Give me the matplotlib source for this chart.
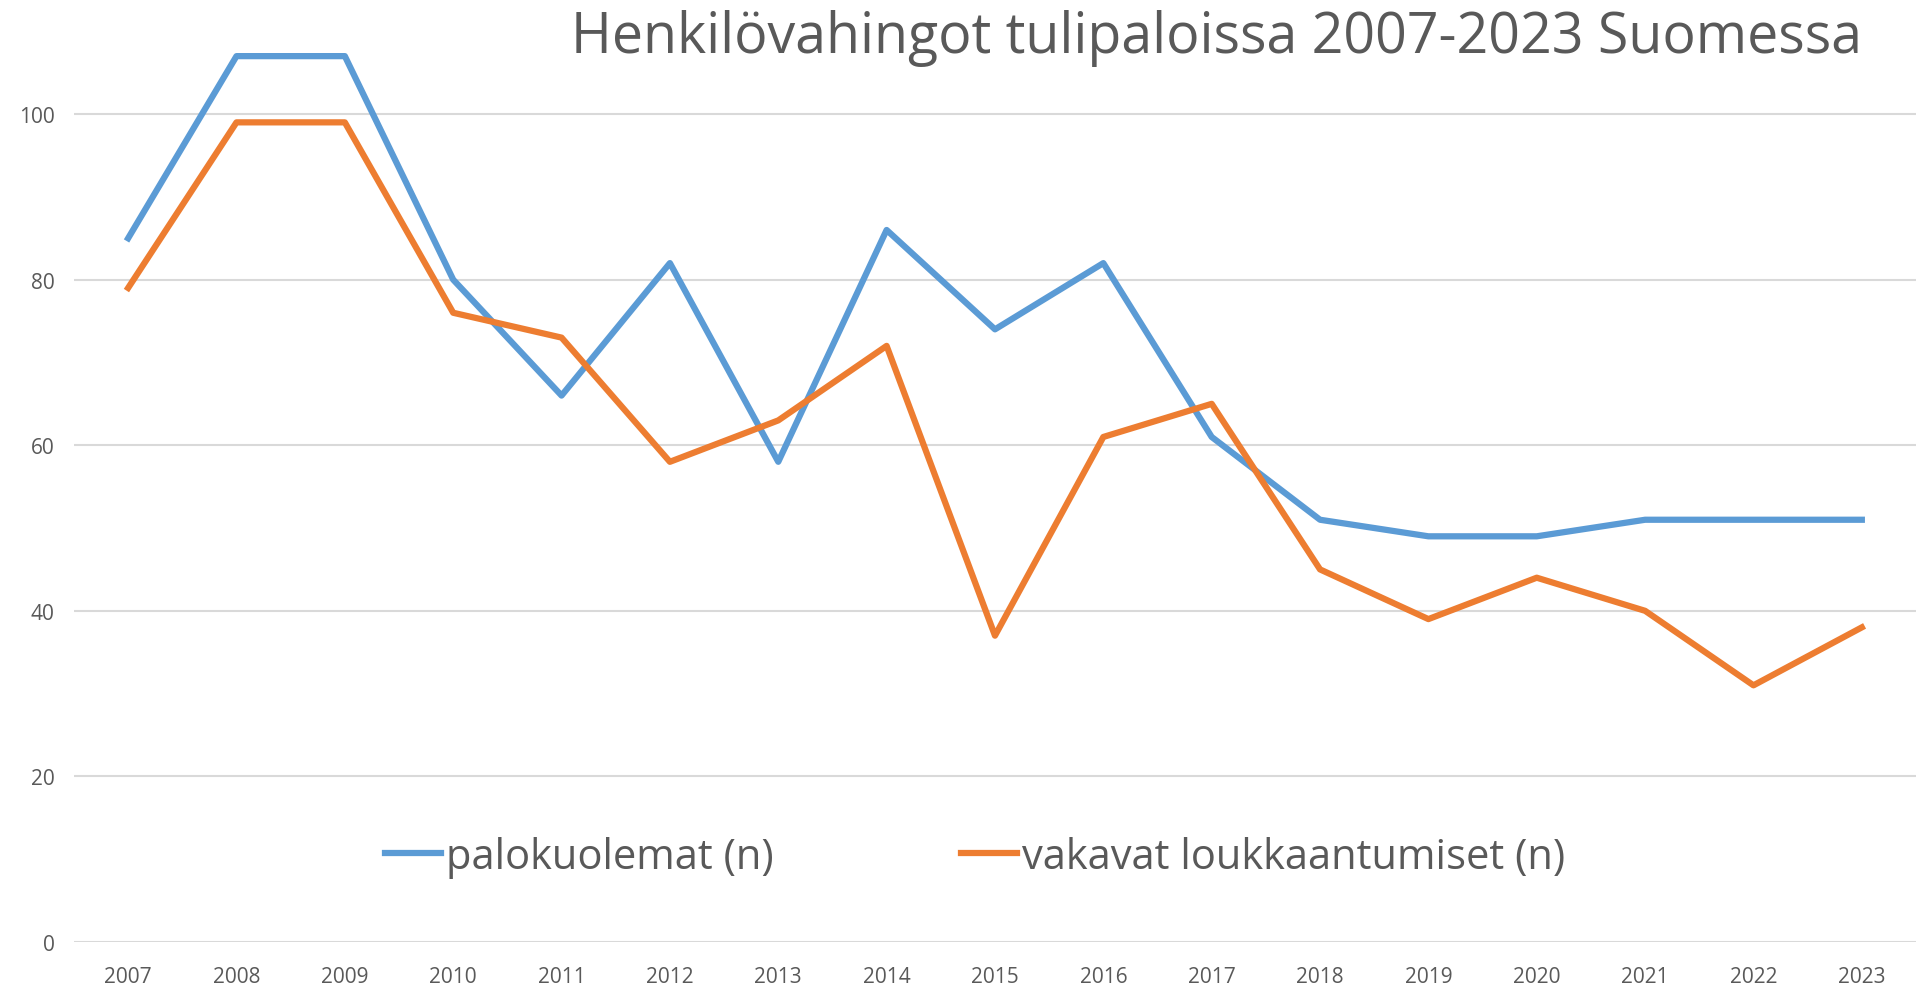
import matplotlib
matplotlib.use("Agg")
import matplotlib.pyplot as plt

years = ["2007", "2008", "2009", "2010", "2011", "2012", "2013", "2014", "2015",
         "2016", "2017", "2018", "2019", "2020", "2021", "2022", "2023"]
palokuolemat = [85, 107, 107, 80, 66, 82, 58, 86, 74, 82, 61, 51, 49, 49, 51, 51, 51]
loukkaantumiset = [79, 99, 99, 76, 73, 58, 63, 72, 37, 61, 65, 45, 39, 44, 40, 31, 38]
yticks = [0, 20, 40, 60, 80, 100]

plt.rcParams['font.family'] = ['Open Sans', 'DejaVu Sans']
txt = '#595959'

fig = plt.figure(figsize=(19.16, 9.87), dpi=100)
ax = fig.add_axes([0.0386, 0.0446, 0.9614, 0.9554])
x = list(range(len(years)))
ax.plot(x, palokuolemat, color='#5B9BD5', lw=4.5, solid_joinstyle='round', label='palokuolemat (n)')
ax.plot(x, loukkaantumiset, color='#ED7D31', lw=4.5, solid_joinstyle='round', label='vakavat loukkaantumiset (n)')
ax.set_xlim(-0.5, len(years) - 0.5)
ax.set_ylim(0, 113.9)
ax.set_yticks(yticks)
ax.set_xticks(x)
ax.set_xticklabels(years)
ax.grid(axis='y', color='#D9D9D9', lw=1.5)
ax.set_axisbelow(True)
for s in ax.spines.values():
    s.set_visible(False)
ax.tick_params(length=0, labelsize=15, labelcolor=txt)
ax.tick_params(axis='x', pad=17)
ax.tick_params(axis='y', pad=14)

fig.text(0.6347, 0.9605, 'Henkilövahingot tulipaloissa 2007-2023 Suomessa',
         ha='center', va='center', fontsize=40, color=txt)

leg = ax.legend(loc='center', bbox_to_anchor=(975 / 1916, 1 - 858 / 987),
                bbox_transform=fig.transFigure, ncol=2, frameon=False,
                fontsize=30, handlelength=1.35, handletextpad=0.12,
                columnspacing=4.5, labelcolor=txt)

fig.savefig('out.png', dpi=100)
